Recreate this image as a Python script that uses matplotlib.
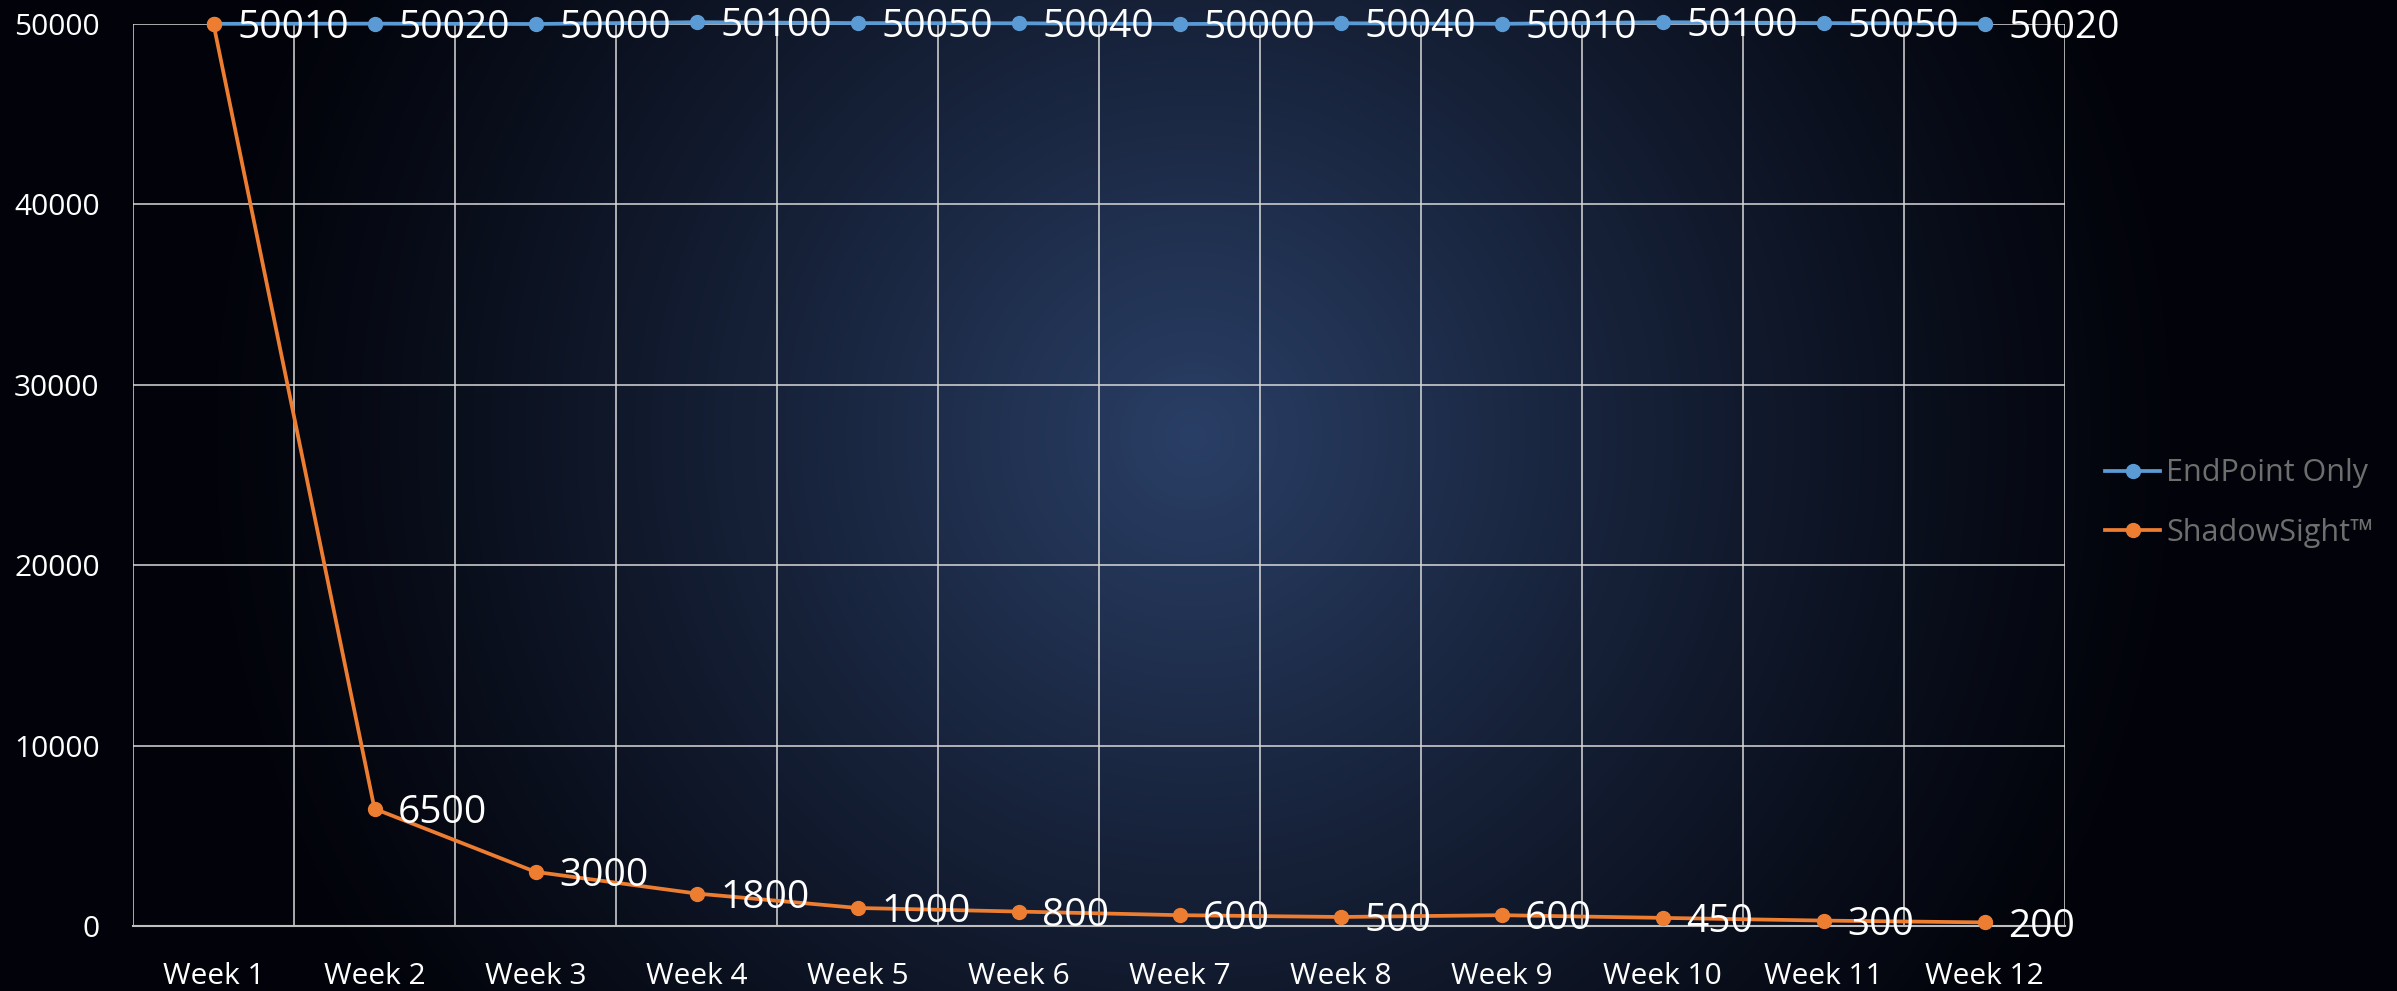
import matplotlib
matplotlib.use("Agg")
import matplotlib.pyplot as plt
import numpy as np

# --- DATA ---
weeks = ["Week 1", "Week 2", "Week 3", "Week 4", "Week 5", "Week 6",
         "Week 7", "Week 8", "Week 9", "Week 10", "Week 11", "Week 12"]
endpoint_only = [50010, 50020, 50000, 50100, 50050, 50040,
                 50000, 50040, 50010, 50100, 50050, 50020]
shadowsight = [50000, 6500, 3000, 1800, 1000, 800,
               600, 500, 600, 450, 300, 200]
series_names = ["EndPoint Only", "ShadowSight\u2122"]
y_ticks = [0, 10000, 20000, 30000, 40000, 50000]

# --- STYLE ---
W, H, DPI = 2397, 991, 100
BLUE = "#5B9BD5"
ORANGE = "#ED7D31"
GRID = "#d9d9d9"
plt.rcParams['font.family'] = ['Open Sans', 'DejaVu Sans']

fig = plt.figure(figsize=(W / DPI, H / DPI), dpi=DPI)

# radial background gradient, bright navy in the middle fading to black
bg = fig.add_axes([0, 0, 1, 1], zorder=-10)
yy, xx = np.mgrid[0:H, 0:W]
r = np.sqrt(((xx - 1193) / 1000.0) ** 2 + ((yy - 436) / 1000.0) ** 2)
k = np.clip(1 - r, 0, 1) ** 1.2
centre = np.array([42, 63, 102]) / 255.0
edge = np.array([2, 3, 10]) / 255.0
img = edge + (centre - edge) * k[..., None]
bg.imshow(img, aspect='auto', interpolation='bilinear')
bg.axis('off')

ax = fig.add_axes([133 / W, 1 - 926 / H, (2065 - 133) / W, (926 - 24) / H])
ax.set_facecolor('none')

x = np.arange(len(weeks))
ax.plot(x, endpoint_only, color=BLUE, lw=2.7, marker='o', ms=10,
        label=series_names[0], clip_on=False, zorder=3)
ax.plot(x, shadowsight, color=ORANGE, lw=2.7, marker='o', ms=10,
        label=series_names[1], clip_on=False, zorder=4)

# data labels to the right of each point
for xi, v in zip(x, endpoint_only):
    ax.annotate(str(v), (xi, v), xytext=(17, -3), textcoords='offset points',
                ha='left', va='center', color='white', fontsize=28,
                annotation_clip=False, zorder=6)
# week 1 ShadowSight label sits under the EndPoint one, so it is not shown
for xi, v in zip(x[1:], shadowsight[1:]):
    ax.annotate(str(v), (xi, v), xytext=(17, -3), textcoords='offset points',
                ha='left', va='center', color='white', fontsize=28,
                annotation_clip=False, zorder=6)

ax.set_xlim(-0.5, len(weeks) - 0.5)
ax.set_ylim(0, 50000)
ax.set_xticks(x)
ax.set_xticklabels(weeks)
ax.set_xticks(np.arange(len(weeks) + 1) - 0.5, minor=True)
ax.set_yticks(y_ticks)
ax.set_yticklabels([str(t) for t in y_ticks])

ax.grid(True, axis='y', which='major', color=GRID, lw=1.1)
ax.grid(True, axis='x', which='minor', color=GRID, lw=1.1)
ax.grid(False, axis='x', which='major')
ax.set_axisbelow(True)
ax.tick_params(axis='both', which='both', length=0, colors='white',
               labelsize=21.5)
ax.tick_params(axis='y', pad=24)
ax.tick_params(axis='x', pad=26)
for s in ['top', 'right', 'left']:
    ax.spines[s].set_visible(False)
ax.spines['bottom'].set_color('#bfbfbf')
ax.spines['bottom'].set_linewidth(1.5)

fig.legend(loc='center left', bbox_to_anchor=(2105 / W, 1 - 503 / H),
           frameon=False, fontsize=22, labelcolor='#6e6e6e',
           handlelength=1.8, handletextpad=0.2, labelspacing=0.95,
           borderpad=0, borderaxespad=0)

fig.savefig("out.png", dpi=DPI)
